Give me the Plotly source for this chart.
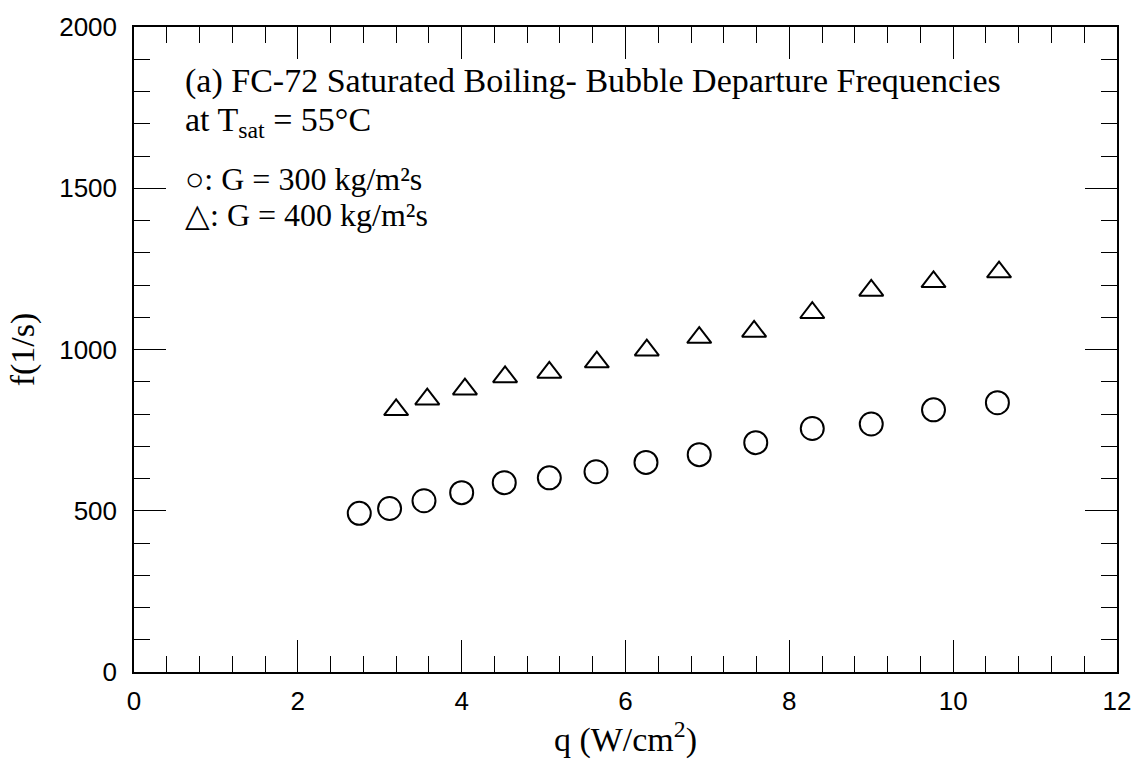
import plotly.graph_objects as go

# Heat flux q (W/cm^2) and bubble departure frequency f (1/s)
q_g300 = [2.75, 3.12, 3.54, 4.00, 4.52, 5.07, 5.64, 6.25, 6.90, 7.59, 8.28, 9.00, 9.76, 10.54]
f_g300 = [492, 507, 531, 556, 587, 602, 621, 650, 674, 711, 755, 769, 813, 835]

q_g400 = [3.20, 3.58, 4.04, 4.53, 5.07, 5.65, 6.26, 6.90, 7.57, 8.28, 9.00, 9.76, 10.56]
f_g400 = [813, 846, 877, 915, 929, 961, 998, 1037, 1056, 1114, 1183, 1210, 1240]

x_ticks = [0, 2, 4, 6, 8, 10, 12]
y_ticks = [0, 500, 1000, 1500, 2000]

SERIF = "Liberation Serif, Times New Roman, serif"
SANS = "Liberation Sans, Arial, Helvetica, sans-serif"

fig = go.Figure()
fig.add_trace(go.Scatter(
    x=q_g300, y=f_g300, mode="markers", name="G = 300 kg/m2s",
    marker=dict(symbol="circle-open", size=23, color="black", line=dict(width=2, color="black")),
))
fig.add_trace(go.Scatter(
    x=q_g400, y=f_g400, mode="markers", name="G = 400 kg/m2s",
    marker=dict(symbol="triangle-up-open", size=21, color="black", line=dict(width=2, color="black")),
))

axis_common = dict(
    showgrid=False, zeroline=False, showline=True, linecolor="black", linewidth=1.5,
    mirror="allticks", ticks="inside", tickcolor="black", tickwidth=1, ticklen=32,
    tickfont=dict(family=SANS, size=26, color="black"),
)

fig.update_xaxes(
    range=[0, 12], tickvals=x_ticks, ticktext=[str(v) for v in x_ticks],
    ticklabelstandoff=5,
    minor=dict(dtick=0.4, tick0=0, ticks="inside", ticklen=16, tickcolor="black", tickwidth=1),
    title=dict(text="q (W/cm<sup>2</sup>)", font=dict(family=SERIF, size=34, color="black"), standoff=4),
    **axis_common,
)
fig.update_yaxes(
    range=[0, 2000], tickvals=y_ticks, ticktext=[str(v) for v in y_ticks],
    ticklabelstandoff=10,
    minor=dict(dtick=100, tick0=0, ticks="inside", ticklen=16, tickcolor="black", tickwidth=1),
    title=dict(text="f(1/s)", font=dict(family=SERIF, size=34, color="black"), standoff=14),
    **axis_common,
)

notes = [
    ("(a) FC-72 Saturated Boiling- Bubble Departure Frequencies", 73, 34),
    ("at T<sub>sat</sub> = 55\u00b0C", 114, 34),
    ("\u25cb: G = 300 kg/m\u00b2s", 172, 32),
    ("\u25b3: G = 400 kg/m\u00b2s", 209, 32),
]
for text, ypix, fsize in notes:
    fig.add_annotation(
        text=text, xref="paper", yref="paper",
        x=(183 - 134) / 984, y=1 - (ypix - 18) / 654,
        xanchor="left", yanchor="middle", showarrow=False,
        font=dict(family=SERIF, size=fsize, color="black"),
    )

fig.update_layout(
    width=1143, height=765,
    margin=dict(l=134, r=25, t=18, b=93),
    paper_bgcolor="white", plot_bgcolor="white",
    showlegend=False,
)

fig.write_html("out.html")
